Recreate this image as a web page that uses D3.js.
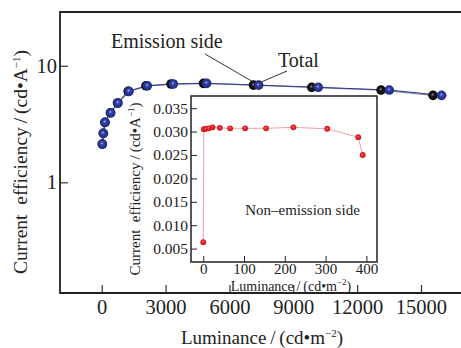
<!DOCTYPE html>
<html>
<head>
<meta charset="utf-8">
<script src="https://cdn.jsdelivr.net/npm/d3@7"></script>
<style>
body { margin: 0; background: #fff; }
text { font-family: "Liberation Serif", "DejaVu Serif", serif; fill: #222; }
</style>
</head>
<body>
<svg id="chart" width="461" height="348"></svg>
<script>
// main plot: total (blue) and emission side (black)
var totalLum = [28, 75, 155, 423, 766, 1282, 2142, 3363, 4932, 7374, 10174, 13509, 15970];
var totalEff = [2.13, 2.63, 3.27, 3.95, 4.79, 6.03, 6.73, 6.97, 7.06, 6.82, 6.53, 6.19, 5.57];
var emisLum = [28, 74, 149, 409, 743, 1241, 2076, 3260, 4780, 7130, 9868, 13125, 15565];
var emisEff = [2.13, 2.63, 3.27, 3.95, 4.79, 6.03, 6.73, 6.97, 7.06, 6.82, 6.53, 6.19, 5.57];
// inset: non-emission side
var nonLum = [0, 1.5, 6.4, 13.7, 22.8, 40.7, 66, 102.7, 154, 221, 304, 380, 391];
var nonEff = [0.00637, 0.0305, 0.0306, 0.0307, 0.0309, 0.0308, 0.0307, 0.0307, 0.0307, 0.0309, 0.0306, 0.0288, 0.0250];

var mainXTicks = [0, 3000, 6000, 9000, 12000, 15000];
var mainYTicks = [1, 10];
var insetXTicks = [0, 100, 200, 300, 400];
var insetYTicks = [0.005, 0.010, 0.015, 0.020, 0.025, 0.030, 0.035];

var svg = d3.select("#chart");

var x = d3.scaleLinear().domain([-1960, 16880]).range([60, 461]);
var y = d3.scaleLog().domain([0.1124, 28.9]).range([293, 12]);

var xi = d3.scaleLinear().domain([-30, 426]).range([191, 377]);
var yi = d3.scaleLinear().domain([0.00214, 0.0376]).range([262, 96]);

// gradients for the shaded balls
var defs = svg.append("defs");
function ball(id, c0, c1, c2) {
    var g = defs.append("radialGradient").attr("id", id)
        .attr("cx", "50%").attr("cy", "50%").attr("r", "55%")
        .attr("fx", "45%").attr("fy", "40%");
    g.append("stop").attr("offset", "0%").attr("stop-color", c0);
    g.append("stop").attr("offset", "30%").attr("stop-color", c1);
    g.append("stop").attr("offset", "100%").attr("stop-color", c2);
}
ball("gBlue", "#aab3ea", "#3443a8", "#1b2378");
ball("gBlack", "#9a9a9a", "#1a1a1a", "#000");
ball("gRed", "#ff9a9a", "#ee2a30", "#c4121a");

// main axes
var xAxis = d3.axisBottom(x).tickValues(mainXTicks).tickSize(-8).tickPadding(6).tickFormat(d3.format("d"));
var yAxis = d3.axisLeft(y).tickValues(mainYTicks).tickSize(-8).tickPadding(3).tickFormat(d3.format("d"));

var gx = svg.append("g").attr("transform", "translate(0,293)").call(xAxis);
var gy = svg.append("g").attr("transform", "translate(60,0)").call(yAxis);
[gx, gy].forEach(function(g) {
    g.select(".domain").remove();
    g.selectAll(".tick line").attr("stroke", "#333").attr("stroke-width", 1.2);
    g.selectAll(".tick text").style("font-size", "20.5px").attr("fill", "#222");
});

// main frame
svg.append("path")
    .attr("d", "M461,12H60V293H461")
    .attr("fill", "none").attr("stroke", "#222").attr("stroke-width", 1.8);

// main series
var lineMain = d3.line().x(function(d) { return x(d[0]); }).y(function(d) { return y(d[1]); });
var emisPts = d3.zip(emisLum, emisEff);
var totalPts = d3.zip(totalLum, totalEff);

svg.append("path").datum(emisPts).attr("d", lineMain)
    .attr("fill", "none").attr("stroke", "#8a8a9a").attr("stroke-width", 1.3);
svg.append("path").datum(totalPts).attr("d", lineMain)
    .attr("fill", "none").attr("stroke", "#2f3595").attr("stroke-width", 1);

svg.selectAll(".emis").data(emisPts).enter().append("circle")
    .attr("class", "emis")
    .attr("cx", function(d) { return x(d[0]); })
    .attr("cy", function(d) { return y(d[1]); })
    .attr("r", 4.8).attr("fill", "url(#gBlack)");
svg.selectAll(".total").data(totalPts).enter().append("circle")
    .attr("class", "total")
    .attr("cx", function(d) { return x(d[0]); })
    .attr("cy", function(d) { return y(d[1]); })
    .attr("r", 4.8).attr("fill", "url(#gBlue)");

// annotations
svg.append("text").attr("x", 111).attr("y", 48).style("font-size", "20px").text("Emission side");
svg.append("line")
    .attr("x1", 205).attr("y1", 54)
    .attr("x2", x(emisLum[9])).attr("y2", y(emisEff[9]) - 3)
    .attr("stroke", "#333").attr("stroke-width", 1);
svg.append("text").attr("x", 278).attr("y", 67).style("font-size", "20px").text("Total");
svg.append("line")
    .attr("x1", 287).attr("y1", 71)
    .attr("x2", x(totalLum[9])).attr("y2", y(totalEff[9]) - 2)
    .attr("stroke", "#333").attr("stroke-width", 1);

// inset
svg.append("rect").attr("x", 191).attr("y", 96).attr("width", 186).attr("height", 166)
    .attr("fill", "#fff").attr("stroke", "#222").attr("stroke-width", 1.5);

var xAxisI = d3.axisBottom(xi).tickValues(insetXTicks).tickSize(-6).tickPadding(1).tickFormat(d3.format("d"));
var yAxisI = d3.axisLeft(yi).tickValues(insetYTicks).tickSize(-6).tickPadding(3).tickFormat(d3.format(".3f"));
var gxi = svg.append("g").attr("transform", "translate(0,262)").call(xAxisI);
var gyi = svg.append("g").attr("transform", "translate(191,0)").call(yAxisI);
[gxi, gyi].forEach(function(g) {
    g.select(".domain").remove();
    g.selectAll(".tick line").attr("stroke", "#333").attr("stroke-width", 1.1);
    g.selectAll(".tick text").style("font-size", "15.5px").attr("fill", "#222");
});
gxi.selectAll(".tick text").style("font-size", "15px");

var nonPts = d3.zip(nonLum, nonEff);
var lineI = d3.line().x(function(d) { return xi(d[0]); }).y(function(d) { return yi(d[1]); });
svg.append("path").datum(nonPts).attr("d", lineI)
    .attr("fill", "none").attr("stroke", "#f3a0a4").attr("stroke-width", 1);
svg.selectAll(".non").data(nonPts).enter().append("circle")
    .attr("class", "non")
    .attr("cx", function(d) { return xi(d[0]); })
    .attr("cy", function(d) { return yi(d[1]); })
    .attr("r", 2.9).attr("fill", "url(#gRed)");

svg.append("text").attr("x", 302.5).attr("y", 215).attr("text-anchor", "middle")
    .style("font-size", "15px").text("Non\u2013emission side");

// axis titles
var tx = svg.append("text").attr("x", 262).attr("y", 344).attr("text-anchor", "middle").style("font-size", "19px");
tx.append("tspan").text("Luminance\u2009/\u2009(cd\u2022m");
tx.append("tspan").attr("dy", -7).style("font-size", "11px").text("\u22122");
tx.append("tspan").attr("dy", 7).text(")");

var ty = svg.append("text").attr("transform", "translate(27,162) rotate(-90)")
    .attr("text-anchor", "middle").style("font-size", "19.5px");
ty.append("tspan").text("Current\u00a0\u00a0efficiency\u2009/\u2009(cd\u2022A");
ty.append("tspan").attr("dy", -7).style("font-size", "11px").text("\u22121");
ty.append("tspan").attr("dy", 7).text(")");

var txi = svg.append("text").attr("x", 291).attr("y", 291).attr("text-anchor", "middle").style("font-size", "14px");
txi.append("tspan").text("Luminance\u2009/\u2009(cd\u2022m");
txi.append("tspan").attr("dy", -6).style("font-size", "9px").text("\u22122");
txi.append("tspan").attr("dy", 6).text(")");

var tyi = svg.append("text").attr("transform", "translate(140,189) rotate(-90)")
    .attr("text-anchor", "middle").style("font-size", "15px");
tyi.append("tspan").text("Current\u00a0\u00a0efficiency\u2009/\u2009(cd\u2022A");
tyi.append("tspan").attr("dy", -6).style("font-size", "9px").text("\u22121");
tyi.append("tspan").attr("dy", 6).text(")");
</script>
</body>
</html>
